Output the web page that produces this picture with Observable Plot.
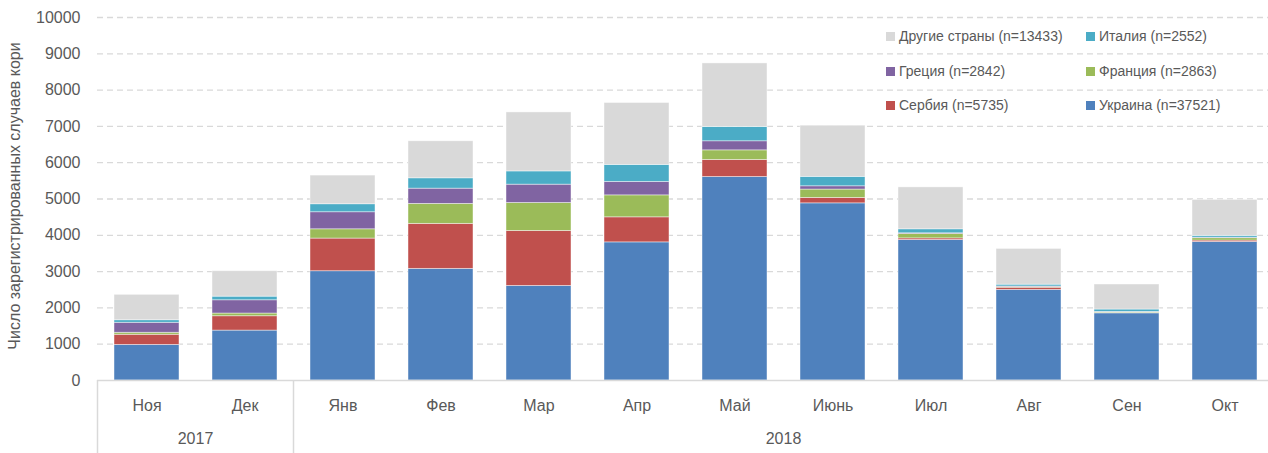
<!DOCTYPE html>
<html><head><meta charset="utf-8">
<script src="https://cdn.jsdelivr.net/npm/d3@7"></script>
<script src="https://cdn.jsdelivr.net/npm/@observablehq/plot@0.6"></script>
<style>
body{margin:0;background:#fff;}
#wrap{position:relative;width:1268px;height:453px;overflow:hidden;font-family:"Liberation Sans",Arial,sans-serif;color:#595959;}
.li{position:absolute;font-size:14px;white-space:nowrap;line-height:16px;}
.sw{display:inline-block;width:9px;height:9px;margin-right:4px;vertical-align:0px;}
</style>
</head><body>
<div id="wrap"></div>
<script>
const months = ["Ноя","Дек","Янв","Фев","Мар","Апр","Май","Июнь","Июл","Авг","Сен","Окт"];
const monthYear = ["2017","2017","2018","2018","2018","2018","2018","2018","2018","2018","2018","2018"];
const years = ["2017","2018"];
const countries = ["Украина","Сербия","Франция","Греция","Италия","Другие страны"];
const counts = [37521,5735,2863,2842,2552,13433];
const colors = ["#4F81BD","#C0504D","#9BBB59","#8064A2","#4BACC6","#D9D9D9"];
const ukraine = [980,1375,3010,3075,2605,3805,5605,4880,3870,2495,1850,3815];
const serbia  = [280,395,900,1240,1515,690,470,150,45,60,10,40];
const france  = [55,75,255,550,770,605,265,230,120,20,20,65];
const greece  = [275,365,470,420,505,370,250,90,20,15,10,15];
const italy   = [70,100,220,285,365,470,395,260,110,50,65,50];
const others  = [700,700,790,1020,1625,1705,1750,1410,1155,985,690,990];
const yTicks = [0,1000,2000,3000,4000,5000,6000,7000,8000,9000,10000];
const legendOrder = ["Другие страны","Италия","Греция","Франция","Сербия","Украина"];
const yTitle = "Число зарегистрированных случаев кори";

const series = [ukraine, serbia, france, greece, italy, others];
const data = [];
countries.forEach((c, i) => months.forEach((m, j) => data.push({month: m, country: c, value: series[i][j]})));

const plot = Plot.plot({
  width: 1268, height: 453,
  marginLeft: 97, marginRight: 0, marginTop: 17, marginBottom: 73,
  style: {fontFamily: "Liberation Sans, Arial, sans-serif", fontSize: "16px", color: "#595959", background: "transparent", overflow: "visible"},
  x: {domain: months, range: [97, 1274], paddingInner: 0.334, paddingOuter: 0.167, label: null},
  y: {domain: [0, 10000], label: null},
  color: {domain: countries, range: colors},
  marks: [
    Plot.gridY(yTicks.filter(d => d > 0), {stroke: "#D9D9D9", strokeOpacity: 1, strokeDasharray: "6,4", strokeWidth: 1.3}),
    Plot.barY(data, {x: "month", y: "value", fill: "country", order: countries, stroke: "#ffffff", strokeOpacity: 0.55, strokeWidth: 0.8}),
    Plot.ruleY([0], {stroke: "#D9D9D9", strokeWidth: 1.5}),
    Plot.axisY(yTicks, {tickSize: 0, tickPadding: 17, tickFormat: d => String(d), fontSize: 16, label: null}),
    Plot.axisX({tickSize: 0, tickPadding: 19, fontSize: 16, fontFamily: "Liberation Sans Narrow, Liberation Sans, sans-serif", label: null})
  ]
});
document.getElementById("wrap").appendChild(plot);

// category group frame and year labels, positioned via the plot's x scale
const xs = plot.scale("x");
const gap = (xs.step - xs.bandwidth) / 2;
const svg = d3.select(plot);
const g = svg.append("g");
years.forEach(yr => {
  const ms = months.filter((m, i) => monthYear[i] === yr);
  const x0 = xs.apply(ms[0]) - gap;
  const x1 = xs.apply(ms[ms.length - 1]) + xs.bandwidth + gap;
  g.append("line").attr("x1", x0).attr("x2", x0).attr("y1", 380).attr("y2", 453)
    .attr("stroke", "#D9D9D9").attr("stroke-width", 1.5);
  g.append("text").attr("x", (x0 + x1) / 2).attr("y", 440).attr("text-anchor", "middle")
    .attr("dominant-baseline", "middle")
    .attr("font-family", "Liberation Sans Narrow, Liberation Sans, sans-serif").attr("font-size", 16)
    .attr("fill", "#595959").text(yr);
});
g.append("text").attr("transform", "translate(16,196) rotate(-90)").attr("text-anchor", "middle")
  .attr("dominant-baseline", "middle").attr("font-size", 16).attr("fill", "#595959").text(yTitle);

// legend
const wrap = document.getElementById("wrap");
legendOrder.forEach((c, k) => {
  const i = countries.indexOf(c);
  const col = k % 2, row = Math.floor(k / 2);
  const d = document.createElement("div");
  d.className = "li";
  d.style.left = (col ? 1086 : 886) + "px";
  d.style.top = (28 + row * 34.5) + "px";
  d.innerHTML = `<span class="sw" style="background:${colors[i]}"></span>${c} (n=${counts[i]})`;
  wrap.appendChild(d);
});
</script>
</body></html>
